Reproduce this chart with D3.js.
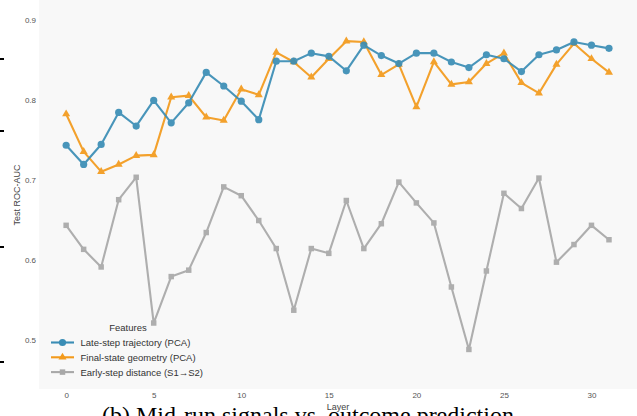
<!DOCTYPE html>
<html>
<head>
<meta charset="utf-8">
<script src="https://cdn.jsdelivr.net/npm/d3@7"></script>
<style>
  html,body{margin:0;padding:0;background:#fff;overflow:hidden;}
  svg{display:block;font-family:"Liberation Sans",Arial,sans-serif;}
</style>
</head>
<body>
<svg id="chart" width="637" height="416"></svg>
<script>
const layers=d3.range(0,32);
const lateStep=[0.743,0.719,0.744,0.784,0.767,0.799,0.771,0.796,0.834,0.817,0.798,0.775,0.848,0.848,0.858,0.854,
  0.836,0.868,0.855,0.845,0.858,0.858,0.847,0.840,0.856,0.851,0.835,0.856,0.862,0.872,0.868,0.864];
const finalState=[0.782,0.735,0.710,0.719,0.730,0.731,0.803,0.805,0.778,0.774,0.813,0.806,0.859,0.847,0.828,0.851,
  0.873,0.872,0.831,0.844,0.791,0.847,0.819,0.822,0.845,0.858,0.821,0.808,0.844,0.870,0.851,0.834];
const earlyStep=[0.643,0.613,0.591,0.675,0.703,0.521,0.579,0.587,0.634,0.691,0.680,0.649,0.614,0.537,0.614,0.608,
  0.674,0.614,0.645,0.697,0.671,0.646,0.566,0.488,0.586,0.683,0.664,0.702,0.597,0.619,0.643,0.625];
const yTicks=[0.5,0.6,0.7,0.8,0.9];
const xTicks=[0,5,10,15,20,25,30];

const series=[
  {name:"Late-step trajectory (PCA)",values:lateStep,color:"#3a8db5",marker:"circle"},
  {name:"Final-state geometry (PCA)",values:finalState,color:"#f39a1b",marker:"triangle"},
  {name:"Early-step distance (S1\u2192S2)",values:earlyStep,color:"#a8a8a8",marker:"square"}
];

const svg=d3.select("#chart");
const plot={left:39,right:637,top:0,bottom:389};

const x=d3.scaleLinear().domain([-1.55,32.6]).range([plot.left,plot.right]);
const y=d3.scaleLinear().domain([0.4386,0.9244]).range([plot.bottom,plot.top]);

// plot background
svg.append("rect").attr("x",plot.left).attr("y",plot.top)
  .attr("width",plot.right-plot.left).attr("height",plot.bottom-plot.top)
  .attr("fill","#f8f8f8");

// stray marks at the left edge (from neighbouring panel)
svg.append("g").selectAll("line").data([59,131,247,362]).join("line")
  .attr("x1",0).attr("x2",4).attr("y1",d=>d).attr("y2",d=>d)
  .attr("stroke","#000").attr("stroke-width",2);

// axes (labels only)
const yAxis=svg.append("g").attr("transform",`translate(${plot.left},0)`)
  .call(d3.axisLeft(y).tickValues(yTicks).tickFormat(d3.format(".1f")).tickSize(0).tickPadding(3));
const xAxis=svg.append("g").attr("transform",`translate(0,${plot.bottom})`)
  .call(d3.axisBottom(x).tickValues(xTicks).tickSize(0).tickPadding(3));
[yAxis,xAxis].forEach(a=>{
  a.select(".domain").remove();
  a.selectAll("text").attr("fill","#555").style("font-size","8px").style("font-family","Liberation Sans,Arial,sans-serif");
});

svg.append("text").attr("x",338).attr("y",410).attr("text-anchor","middle")
  .attr("fill","#444").style("font-size","9px").text("Layer");
svg.append("text").attr("transform","translate(20,195) rotate(-90)").attr("text-anchor","middle")
  .attr("fill","#444").style("font-size","9px").text("Test ROC-AUC");

const line=d3.line().x((d,i)=>x(layers[i])).y(d=>y(d));
const tri=d3.symbol().type(d3.symbolTriangle).size(28);
const sq=d3.symbol().type(d3.symbolSquare).size(30);

function drawMarker(g,m,color){
  if(m==="circle") return g.append("circle").attr("r",3.6).attr("fill",color);
  return g.append("path").attr("d",m==="triangle"?tri():sq()).attr("fill",color);
}

const marks=svg.append("g");
// draw grey first, then orange, then blue
[series[2],series[1],series[0]].forEach(s=>{
  const g=marks.append("g").attr("opacity",0.92);
  g.append("path").datum(s.values).attr("d",line).attr("fill","none")
    .attr("stroke",s.color).attr("stroke-width",2.1).attr("stroke-linejoin","round");
  s.values.forEach((v,i)=>{
    const mg=g.append("g").attr("transform",`translate(${x(layers[i])},${y(v)})`);
    drawMarker(mg,s.marker,s.color);
  });
});

// legend
const legend=svg.append("g");
legend.append("text").attr("x",128).attr("y",330.5).attr("text-anchor","middle")
  .attr("fill","#333").style("font-size","9.5px").text("Features");
series.forEach((s,i)=>{
  const ly=342.5+i*14.8;
  const row=legend.append("g");
  row.append("line").attr("x1",51).attr("x2",74).attr("y1",ly).attr("y2",ly)
    .attr("stroke",s.color).attr("stroke-width",2.1);
  drawMarker(row.append("g").attr("transform",`translate(62.5,${ly})`),s.marker,s.color);
  row.append("text").attr("x",80.5).attr("y",ly+3.4).attr("fill","#333")
    .style("font-size","9.5px").text(s.name);
});

// caption of the figure, cut by the page edge
svg.append("text").attr("x",102).attr("y",423).attr("fill","#000")
  .style("font-family","Liberation Serif,Times New Roman,serif").style("font-size","24px")
  .text("(b) Mid-run signals vs. outcome prediction");
</script>
</body>
</html>
